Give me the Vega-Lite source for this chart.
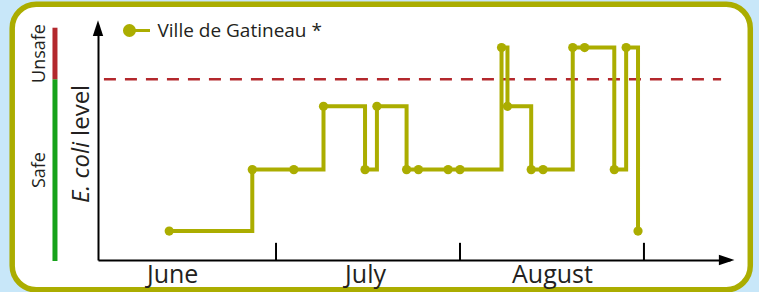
{
  "$schema": "https://vega.github.io/schema/vega-lite/v6.json",
  "width": 632,
  "height": 235,
  "autosize": {"type": "none"},
  "padding": {"left": 98, "top": 25, "right": 29, "bottom": 32},
  "background": "white",
  "config": {"view": {"stroke": null}, "font": "Open Sans"},
  "datasets": {
    "samples": [
      {"date": "2011-06-13", "level": 32, "site": "Ville de Gatineau *"},
      {"date": "2011-06-27", "level": 100, "site": "Ville de Gatineau *"},
      {"date": "2011-07-04", "level": 100, "site": "Ville de Gatineau *"},
      {"date": "2011-07-09", "level": 170, "site": "Ville de Gatineau *"},
      {"date": "2011-07-16", "level": 100, "site": "Ville de Gatineau *"},
      {"date": "2011-07-18", "level": 170, "site": "Ville de Gatineau *"},
      {"date": "2011-07-23", "level": 100, "site": "Ville de Gatineau *"},
      {"date": "2011-07-25", "level": 100, "site": "Ville de Gatineau *"},
      {"date": "2011-07-30", "level": 100, "site": "Ville de Gatineau *"},
      {"date": "2011-08-01", "level": 100, "site": "Ville de Gatineau *"},
      {"date": "2011-08-08", "level": 235, "site": "Ville de Gatineau *"},
      {"date": "2011-08-09", "level": 170, "site": "Ville de Gatineau *"},
      {"date": "2011-08-13", "level": 100, "site": "Ville de Gatineau *"},
      {"date": "2011-08-15", "level": 100, "site": "Ville de Gatineau *"},
      {"date": "2011-08-20", "level": 235, "site": "Ville de Gatineau *"},
      {"date": "2011-08-22", "level": 235, "site": "Ville de Gatineau *"},
      {"date": "2011-08-27", "level": 100, "site": "Ville de Gatineau *"},
      {"date": "2011-08-29", "level": 235, "site": "Ville de Gatineau *"},
      {"date": "2011-08-31", "level": 32, "site": "Ville de Gatineau *"}
    ],
    "zones": [
      {"zone": "Safe", "from": -1, "to": 200},
      {"zone": "Unsafe", "from": 200, "to": 257}
    ],
    "threshold": [{"level": 200}],
    "monthStarts": [{"date": "2011-07-01"}, {"date": "2011-08-01"}, {"date": "2011-09-01"}]
  },
  "layer": [
    {
      "data": {"values": [{"part": "outside"}]},
      "mark": {"type": "rect", "fill": null, "stroke": "#c8e7f9", "strokeWidth": 40, "cornerRadius": 44},
      "encoding": {
        "x": {"datum": {"year": 2011, "month": 5, "date": 14, "hours": 4, "minutes": 30, "utc": true}, "type": "temporal", "scale": {"type": "utc"}},
        "x2": {"datum": {"year": 2011, "month": 9, "date": 22, "hours": 7, "minutes": 30, "utc": true}},
        "y": {"datum": 305.4, "type": "quantitative"},
        "y2": {"datum": -55.3}
      }
    },
    {
      "data": {"values": [{"part": "frame"}]},
      "mark": {"type": "rect", "fill": null, "stroke": "#abad00", "strokeWidth": 5.5, "cornerRadius": 24},
      "encoding": {
        "x": {"datum": {"year": 2011, "month": 5, "date": 17, "hours": 13, "utc": true}, "type": "temporal", "scale": {"type": "utc"}},
        "x2": {"datum": {"year": 2011, "month": 9, "date": 18, "hours": 22, "utc": true}},
        "y": {"datum": 283, "type": "quantitative"},
        "y2": {"datum": -33}
      }
    },
    {
      "data": {"name": "threshold"},
      "mark": {"type": "rule", "color": "#b3282d", "strokeWidth": 2.5, "strokeDash": [12, 9]},
      "encoding": {
        "y": {"field": "level", "type": "quantitative", "title": null},
        "x": {"datum": {"year": 2011, "month": 6, "date": 2, "utc": true}, "type": "temporal", "scale": {"type": "utc"}},
        "x2": {"datum": {"year": 2011, "month": 9, "date": 14, "utc": true}}
      }
    },
    {
      "data": {"name": "monthStarts"},
      "mark": {"type": "rule", "color": "black", "strokeWidth": 2},
      "encoding": {
        "x": {"field": "date", "type": "temporal", "scale": {"type": "utc"}, "title": null},
        "y": {"datum": 0, "type": "quantitative"},
        "y2": {"datum": 19}
      }
    },
    {
      "data": {"name": "zones"},
      "mark": {"type": "rule", "strokeWidth": 5},
      "encoding": {
        "x": {"datum": {"year": 2011, "month": 5, "date": 24, "hours": 18, "utc": true}, "type": "temporal", "scale": {"type": "utc"}},
        "y": {"field": "from", "type": "quantitative", "title": null},
        "y2": {"field": "to"},
        "color": {"condition": {"test": "datum.zone === 'Unsafe'", "value": "#b3282d"}, "value": "#16a21a"}
      }
    },
    {
      "data": {"name": "zones"},
      "transform": [{"calculate": "(datum.from + datum.to) / 2", "as": "mid"}],
      "mark": {"type": "text", "angle": 270, "align": "center", "baseline": "middle", "fontSize": 18, "font": "Open Sans", "color": "#231f20"},
      "encoding": {
        "x": {"datum": {"year": 2011, "month": 5, "date": 22, "hours": 6, "utc": true}, "type": "temporal", "scale": {"type": "utc"}},
        "y": {"field": "mid", "type": "quantitative", "title": null},
        "text": {"field": "zone"}
      }
    },
    {
      "data": {"values": [{"label": "E. coli"}]},
      "mark": {"type": "text", "angle": 270, "align": "right", "baseline": "middle", "dx": -3, "fontSize": 24, "fontStyle": "italic", "font": "Open Sans", "color": "#231f20"},
      "encoding": {
        "x": {"datum": {"year": 2011, "month": 5, "date": 29, "hours": 7, "utc": true}, "type": "temporal", "scale": {"type": "utc"}},
        "y": {"datum": 134, "type": "quantitative"},
        "text": {"field": "label"}
      }
    },
    {
      "data": {"values": [{"label": "level"}]},
      "mark": {"type": "text", "angle": 270, "align": "left", "baseline": "middle", "dx": 3, "fontSize": 24, "font": "Open Sans", "color": "#231f20"},
      "encoding": {
        "x": {"datum": {"year": 2011, "month": 5, "date": 29, "hours": 7, "utc": true}, "type": "temporal", "scale": {"type": "utc"}},
        "y": {"datum": 134, "type": "quantitative"},
        "text": {"field": "label"}
      }
    },
    {
      "data": {"name": "samples"},
      "mark": {"type": "line", "interpolate": "step-after", "strokeWidth": 4, "color": "#abad00"},
      "encoding": {
        "x": {
          "field": "date", "type": "temporal", "title": null,
          "scale": {"type": "utc", "domain": [{"year": 2011, "month": 6, "date": 1, "utc": true}, {"year": 2011, "month": 9, "date": 15, "hours": 12, "utc": true}]},
          "axis": {
            "values": [
              {"year": 2011, "month": 6, "date": 13, "hours": 12, "utc": true},
              {"year": 2011, "month": 7, "date": 16, "utc": true},
              {"year": 2011, "month": 8, "date": 16, "hours": 12, "utc": true}
            ],
            "format": "%B", "ticks": false, "tickSize": 0, "labelPadding": 2, "title": null, "grid": false,
            "domainColor": "black", "domainWidth": 2, "labelFont": "Open Sans", "labelFontSize": 25,
            "labelColor": "#231f20", "labelFlush": false, "labelOverlap": false, "zindex": 1
          }
        },
        "y": {
          "field": "level", "type": "quantitative", "title": null,
          "scale": {"domain": [0, 260], "nice": false, "zero": true},
          "axis": {"title": null, "labels": false, "ticks": false, "grid": false, "domainColor": "black", "domainWidth": 2, "zindex": 1}
        }
      }
    },
    {
      "data": {"name": "samples"},
      "mark": {"type": "point", "filled": true, "size": 85, "opacity": 1},
      "encoding": {
        "x": {"field": "date", "type": "temporal", "scale": {"type": "utc"}, "title": null},
        "y": {"field": "level", "type": "quantitative", "title": null},
        "color": {
          "field": "site", "type": "nominal",
          "scale": {"range": ["#abad00"]},
          "legend": {
            "orient": "none", "legendX": 24.5, "legendY": -9, "title": null, "padding": 0,
            "symbolType": "M-0.965,0A0.385,0.385 0 1,1 -0.195,0A0.385,0.385 0 1,1 -0.965,0Z M-0.195,0L1,0",
            "symbolSize": 676, "symbolStrokeWidth": 3, "symbolFillColor": "#abad00", "symbolStrokeColor": "#abad00",
            "labelFont": "Open Sans", "labelFontSize": 19, "labelColor": "#231f20", "labelOffset": 6, "labelLimit": 400
          }
        }
      }
    },
    {
      "data": {"values": [{"arrow": "y"}]},
      "mark": {"type": "point", "shape": "M0,-1L0.6,0.8L-0.6,0.8Z", "filled": true, "color": "black", "size": 300, "opacity": 1},
      "encoding": {
        "x": {"datum": {"year": 2011, "month": 6, "date": 1, "utc": true}, "type": "temporal", "scale": {"type": "utc"}},
        "y": {"datum": 255.6, "type": "quantitative"}
      }
    },
    {
      "data": {"values": [{"arrow": "x"}]},
      "mark": {"type": "point", "shape": "M1,0L-0.8,0.6L-0.8,-0.6Z", "filled": true, "color": "black", "size": 300, "opacity": 1},
      "encoding": {
        "x": {"datum": {"year": 2011, "month": 9, "date": 14, "hours": 19, "utc": true}, "type": "temporal", "scale": {"type": "utc"}},
        "y": {"datum": 0, "type": "quantitative"}
      }
    }
  ]
}
